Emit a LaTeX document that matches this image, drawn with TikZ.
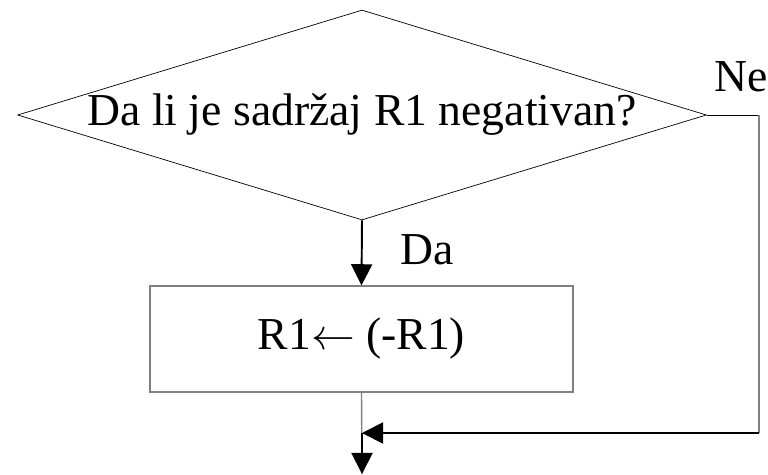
\documentclass[tikz,border=0pt]{standalone}
\usepackage{fontspec}
\setmainfont{Liberation Serif}
\usetikzlibrary{shapes.geometric,arrows.meta}
\tikzset{
  odluka/.style={diamond,draw,thin,aspect=3.3,inner sep=0pt,minimum width=13.78cm,minimum height=4.2cm},
  akcija/.style={rectangle,draw=gray,line width=0.8pt,minimum width=8.46cm,minimum height=2.12cm},
  tok/.style={line width=1.1pt,-{Triangle[length=12pt,width=12pt]}},
  oznaka/.style={font=\fontsize{26}{31}\selectfont}
}
\begin{document}
\begin{tikzpicture}[x=0.02cm,y=-0.02cm]
  \useasboundingbox (0,0) rectangle (768,474);
  %\draw[very thin,gray] (0,0) grid[step=50] (768,474);
  \node[odluka,oznaka] (uslov) at (362,115) {Da li je sadržaj R1 negativan?};
  \node[akcija,oznaka] (neg) at (361.5,339) {R1$\leftarrow$ (-R1)};
  \coordinate (desno) at (759,115);
  \coordinate (spoj) at (362,433);
  \coordinate (kraj) at (362,474);
  \draw[tok] (uslov.south) -- node[right,oznaka,pos=0.45,xshift=18pt]{Da} (neg.north); % grana Da
  \draw[line width=0.8pt,gray] (neg.south) -- (kraj);
  \draw[tok] (spoj) -- (kraj); % izlaz
  \draw[thin] (uslov.east) -- (desno); % grana Ne
  \draw[line width=0.8pt,gray] (desno) -- (desno |- spoj);
  \draw[tok] (desno |- spoj) -- (spoj);
  \node[oznaka,anchor=south] at (741,98) {Ne};
\end{tikzpicture}
\end{document}
